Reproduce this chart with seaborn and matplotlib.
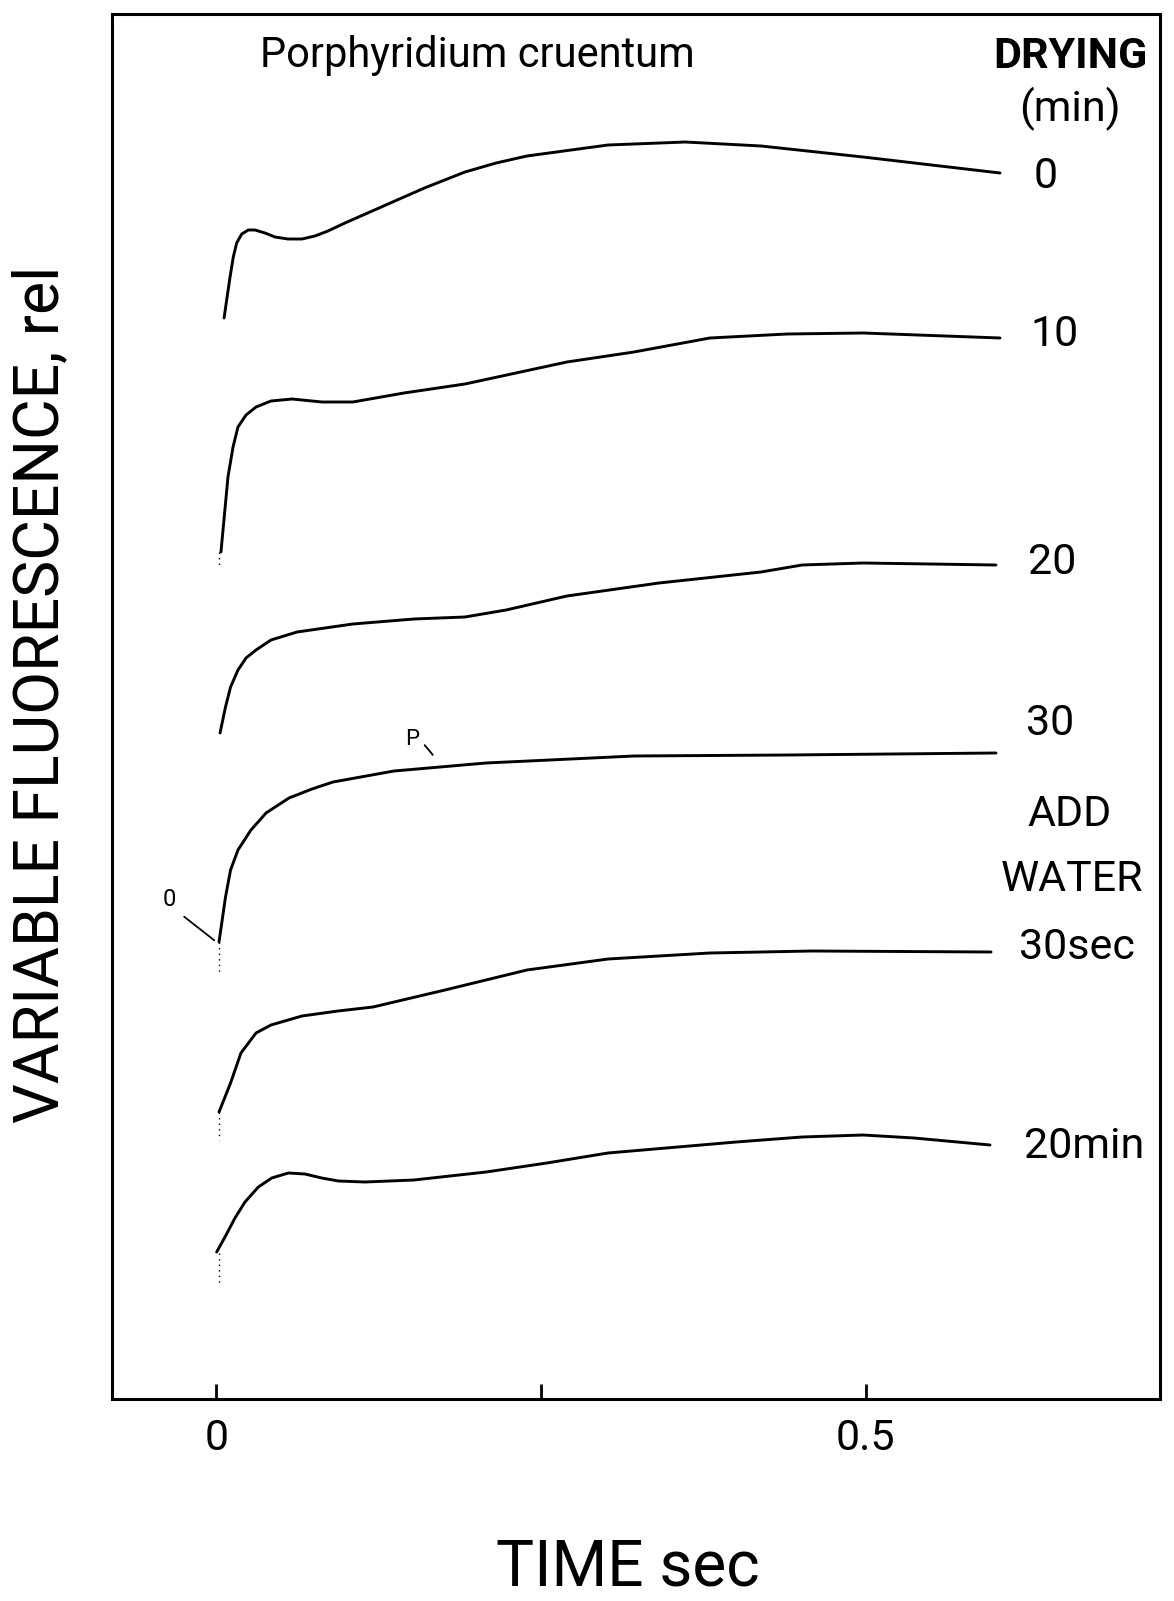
import matplotlib
matplotlib.use("Agg")
import matplotlib.pyplot as plt
import seaborn as sns
import pandas as pd

# ---- data (time in s, variable fluorescence in relative units) ----
t_0 = [0.0059, 0.0079, 0.0105, 0.0130, 0.0156, 0.0195, 0.0246, 0.0297, 0.0374, 0.0451,
       0.0551, 0.0659, 0.0759, 0.0859, 0.0990, 0.1252, 0.1602, 0.1914, 0.2154, 0.2391,
       0.3016, 0.3609, 0.4194, 0.4979, 0.6034]
f_0 = [10.81, 10.99, 11.22, 11.42, 11.56, 11.65, 11.69, 11.69, 11.66, 11.62,
       11.60, 11.60, 11.63, 11.68, 11.76, 11.91, 12.11, 12.27, 12.36, 12.43,
       12.54, 12.57, 12.53, 12.42, 12.26]

t_10 = [0.0035, 0.0089, 0.0128, 0.0166, 0.0228, 0.0305, 0.0420, 0.0582, 0.0813, 0.1051,
        0.1444, 0.1914, 0.2699, 0.3215, 0.3800, 0.4395, 0.4979, 0.6034]
f_10 = [8.47, 9.22, 9.52, 9.72, 9.84, 9.92, 9.98, 10.00, 9.97, 9.97,
        10.06, 10.15, 10.37, 10.47, 10.61, 10.65, 10.66, 10.61]

t_20 = [0.0028, 0.0070, 0.0109, 0.0166, 0.0228, 0.0305, 0.0420, 0.0621, 0.1051, 0.1521,
        0.1914, 0.2231, 0.2699, 0.3408, 0.4194, 0.4510, 0.4979, 0.6003]
f_20 = [6.66, 6.92, 7.12, 7.29, 7.41, 7.49, 7.59, 7.67, 7.75, 7.80,
        7.82, 7.89, 8.03, 8.16, 8.27, 8.34, 8.36, 8.34]

t_30 = [0.0020, 0.0070, 0.0109, 0.0166, 0.0266, 0.0382, 0.0559, 0.0736, 0.0898, 0.1368,
        0.2077, 0.3217, 0.4395, 0.6003]
f_30 = [4.57, 5.02, 5.29, 5.49, 5.69, 5.86, 6.01, 6.10, 6.17, 6.28,
        6.36, 6.43, 6.44, 6.46]

t_30s = [0.0020, 0.0109, 0.0189, 0.0305, 0.0420, 0.0659, 0.0936, 0.1206, 0.1760, 0.2391,
         0.3016, 0.3800, 0.4586, 0.5965]
f_30s = [2.87, 3.16, 3.46, 3.66, 3.74, 3.83, 3.88, 3.92, 4.09, 4.29,
         4.40, 4.46, 4.48, 4.47]

t_20m = [0.0002, 0.0066, 0.0143, 0.0220, 0.0323, 0.0426, 0.0554, 0.0682, 0.0811, 0.0939,
         0.1144, 0.1521, 0.2077, 0.2545, 0.3016, 0.4002, 0.4510, 0.4979, 0.5372, 0.5957]
f_20m = [1.47, 1.62, 1.81, 1.97, 2.12, 2.21, 2.26, 2.25, 2.21, 2.18,
         2.17, 2.19, 2.27, 2.36, 2.46, 2.57, 2.62, 2.64, 2.61, 2.54]

series_names = ["0", "10", "20", "30", "30sec", "20min"]
series_t = [t_0, t_10, t_20, t_30, t_30s, t_20m]
series_f = [f_0, f_10, f_20, f_30, f_30s, f_20m]

x_ticks = [0.0, 0.25, 0.5]
x_tick_labels = ["0", "", "0.5"]

# ---- style ----
sns.set_theme(style="white")
FONT = ["Liberation Sans Narrow", "Roboto", "DejaVu Sans"]
plt.rcParams["font.family"] = FONT

W, H = 1174, 1601
fig = plt.figure(figsize=(W / 100, H / 100), dpi=100)
ax = fig.add_axes([112 / W, 1 - 1399 / H, (1160 - 112) / W, (1399 - 14) / H])

frames = []
for name, t, f in zip(series_names, series_t, series_f):
    frames.append(pd.DataFrame({"time": t, "fluor": f, "series": name}))
df = pd.concat(frames, ignore_index=True)

for name in series_names:
    sub = df[df["series"] == name]
    sns.lineplot(data=sub, x="time", y="fluor", ax=ax, color="black",
                 linewidth=2.1, sort=False, estimator=None, legend=False)
for ln in ax.get_lines():
    ln.set_solid_joinstyle("round")
    ln.set_solid_capstyle("round")

# shutter-opening dotted marks below the trace starts
for y0, y1 in [(8.47, 8.34), (4.57, 4.24), (2.87, 2.59), (1.46, 1.14)]:
    ax.plot([0.002, 0.002], [y0, y1], linestyle=(0, (1, 3)), color="black", linewidth=1.0)

ax.set_xlim(-0.0804, 0.7266)
ax.set_ylim(0, 13.85)
ax.set_xticks(x_ticks)
ax.set_xticklabels(x_tick_labels)
ax.set_yticks([])
ax.tick_params(axis="x", direction="in", length=11, width=2, pad=14,
               labelsize=31, colors="black", bottom=True)
ax.set_xlabel("")
ax.set_ylabel("")
for sp in ax.spines.values():
    sp.set_visible(True)
    sp.set_color("black")
    sp.set_linewidth(2.2)

# O and P markers on the 30-min trace
ax.annotate("", xy=(0.0, 4.57), xytext=(-0.0265, 4.84),
            arrowprops=dict(arrowstyle="-", color="black", lw=1.3))
ax.text(-0.036, 5.0, "0", fontsize=17, ha="center", va="center", color="black")
ax.annotate("", xy=(0.168, 6.42), xytext=(0.159, 6.56),
            arrowprops=dict(arrowstyle="-", color="black", lw=1.3))
ax.text(0.1505, 6.60, "P", fontsize=16, ha="center", va="center", color="black")

def ftext(px, py, s, **kw):
    fig.text(px / W, 1 - py / H, s, ha="center", va="center", color="black", **kw)

ftext(477, 56, "Porphyridium cruentum", fontsize=30)
ftext(1070, 56, "DRYING", fontsize=31, fontweight="bold")
ftext(1070, 109, "(min)", fontsize=31)
ftext(1046, 176, "0", fontsize=31)
ftext(1055, 335, "10", fontsize=31)
ftext(1052, 563, "20", fontsize=31)
ftext(1050, 723, "30", fontsize=31)
ftext(1070, 814, "ADD", fontsize=31)
ftext(1072, 879, "WATER", fontsize=31)
ftext(1077, 947, "30sec", fontsize=31)
ftext(1084, 1146, "20min", fontsize=31)

ftext(628, 1567, "TIME sec", fontsize=46)
ftext(41, 694, "VARIABLE FLUORESCENCE, rel", fontsize=45, rotation=90)

fig.savefig("out.png", dpi=100)
